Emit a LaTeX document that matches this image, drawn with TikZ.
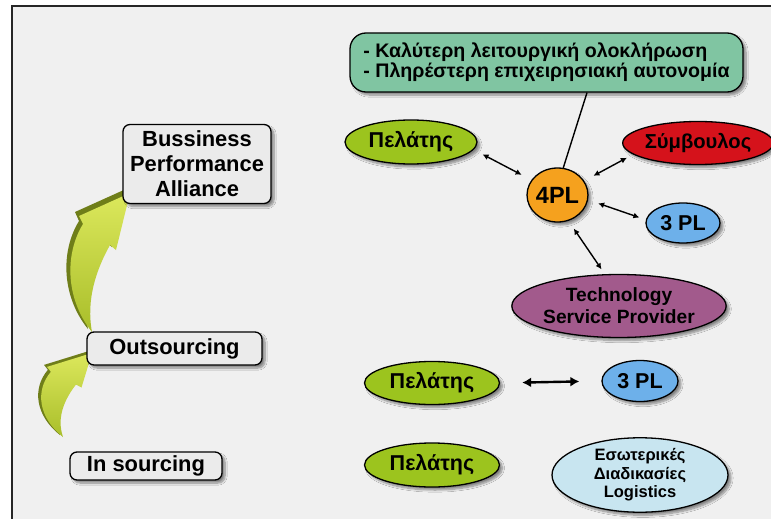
\documentclass[tikz,border=0pt]{standalone}
\usepackage{fontspec}
\setmainfont{Liberation Sans}
\usetikzlibrary{shapes.geometric,arrows.meta,shadows.blur}
\definecolor{bgc}{HTML}{F0F0F0}
\definecolor{boxc}{HTML}{EBEBEB}
\definecolor{tealc}{HTML}{80C5A2}
\definecolor{limec}{HTML}{9CC41E}
\definecolor{redc}{HTML}{D5121B}
\definecolor{orangec}{HTML}{F5A11E}
\definecolor{bluec}{HTML}{6DB0EA}
\definecolor{purplec}{HTML}{A25A8C}
\definecolor{lbluec}{HTML}{C8E5F0}
\definecolor{olivedark}{HTML}{6F7E19}
\definecolor{olivetop}{HTML}{DCE85C}
\definecolor{olivebot}{HTML}{A9BE2A}
\begin{document}
\begin{tikzpicture}[x=1pt,y=-1pt,
  shad/.style={blur shadow={shadow xshift=3pt,shadow yshift=-3pt,shadow blur steps=8,shadow opacity=45}},
  rbox/.style={draw=black,line width=1.3pt,rounded corners=7pt,fill=boxc,shad,inner sep=0pt,
    align=center,font=\bfseries\fontsize{21.9}{25}\selectfont},
  ell/.style={ellipse,draw=black,line width=1.3pt,inner sep=0pt,shad,align=center,
    font=\bfseries\fontsize{21.5}{22}\selectfont},
  conn/.style={{Latex[length=6pt,width=6pt]}-{Latex[length=6pt,width=6pt]},line width=1.4pt},
  bigconn/.style={{Latex[length=9pt,width=10pt]}-{Latex[length=9pt,width=10pt]},line width=2.4pt}
]
\useasboundingbox (0,0) rectangle (771,519);
\fill[white] (0,0) rectangle (771,519);
\draw[line width=2pt,draw=black!85,fill=bgc] (11.5,6.5) rectangle (790,540);

% green curved arrows
\fill[olivedark] (88,329) .. controls (62,297) and (60,252) .. (79,221) -- (75,212) -- (126,189) -- (112,247) -- (106,242) .. controls (92,267) and (82,297) .. (88,329) -- cycle;
\shade[top color=olivetop,bottom color=olivebot] (92,332) .. controls (66,300) and (64,255) .. (83,224) -- (79,216) -- (130,193) -- (116,250) -- (110,245) .. controls (96,270) and (86,300) .. (92,332) -- cycle;

\fill[olivedark] (60,435) .. controls (35.4,415.7) and (31.9,388.5) .. (47.9,369.8) -- (44,364.9) -- (89,351) -- (78.5,385.5) -- (73,382.5) .. controls (61.3,397.6) and (53.4,415.7) .. (60,435) -- cycle;
\shade[top color=olivetop,bottom color=olivebot] (63,437) .. controls (38.4,417.7) and (34.9,390.5) .. (50.9,371.8) -- (47,366.9) -- (92,353) -- (81.5,387.5) -- (76,384.5) .. controls (64.3,399.6) and (56.4,417.7) .. (63,437) -- cycle;

% left boxes
\node[rbox,minimum width=148pt,minimum height=79pt] (bpa) at (197,164) {Bussiness\\Performance\\Alliance};
\node[rbox,minimum width=175pt,minimum height=33pt] (out) at (174.5,348.5) {Outsourcing};
\node[rbox,minimum width=152pt,minimum height=28pt] (ins) at (146,466) {In sourcing};

% top teal box
\node[draw=black,line width=1.3pt,rounded corners=16pt,fill=tealc,shad,inner sep=0pt,
  minimum width=393pt,minimum height=59pt,align=left,
  font=\bfseries\fontsize{19.6}{20}\selectfont] (top) at (546.5,62.5)
  {- Καλύτερη λειτουργική ολοκλήρωση\\- Πληρέστερη επιχειρησιακή αυτονομία};

% ellipses
\node[ell,fill=limec,minimum width=132pt,minimum height=44pt] (pel1) at (411,142) {Πελάτης};
\node[ell,fill=redc,minimum width=134pt,minimum height=43pt,font=\bfseries\fontsize{20.2}{22}\selectfont] (sym) at (698,143) {Σύμβουλος};
\node[ell,fill=orangec,minimum width=52pt,minimum height=54pt,font=\bfseries\fontsize{23.5}{22}\selectfont] (fpl) at (557.5,195) {4PL};
\node[ell,fill=bluec,minimum width=74pt,minimum height=40pt] (tpl1) at (683,223) {3 PL};
\node[ell,fill=purplec,minimum width=208pt,minimum height=63pt,font=\bfseries\fontsize{19.2}{22}\selectfont] (tech) at (619,306) {Technology\\Service Provider};
\node[ell,fill=limec,minimum width=135pt,minimum height=43pt] (pel2) at (432,383) {Πελάτης};
\node[ell,fill=bluec,minimum width=76pt,minimum height=41pt] (tpl2) at (640,381) {3 PL};
\node[ell,fill=limec,minimum width=135pt,minimum height=44pt] (pel3) at (432,465) {Πελάτης};
\node[ell,fill=lbluec,minimum width=176pt,minimum height=70pt,font=\bfseries\fontsize{16.5}{18.5}\selectfont] (eso) at (640,475) {Εσωτερικές\\Διαδικασίες\\Logistics};

% connectors
\draw[line width=1.4pt] ([xshift=40.5pt]top.south) -- (fpl.78);
\draw[conn,shorten <=10pt,shorten >=11pt] (pel1.353) -- (fpl.150);
\draw[conn,shorten <=10.5pt,shorten >=7pt] (fpl.28) -- (sym.190);
\draw[conn,shorten <=10.6pt,shorten >=6.8pt] (fpl.351) -- (tpl1.175);
\draw[conn,shorten <=9.3pt,shorten >=5.8pt] (fpl.293) -- (tech.114);
\draw[bigconn,shorten <=22pt,shorten >=22pt] (pel2.east) -- (tpl2.west);
\end{tikzpicture}
\end{document}
